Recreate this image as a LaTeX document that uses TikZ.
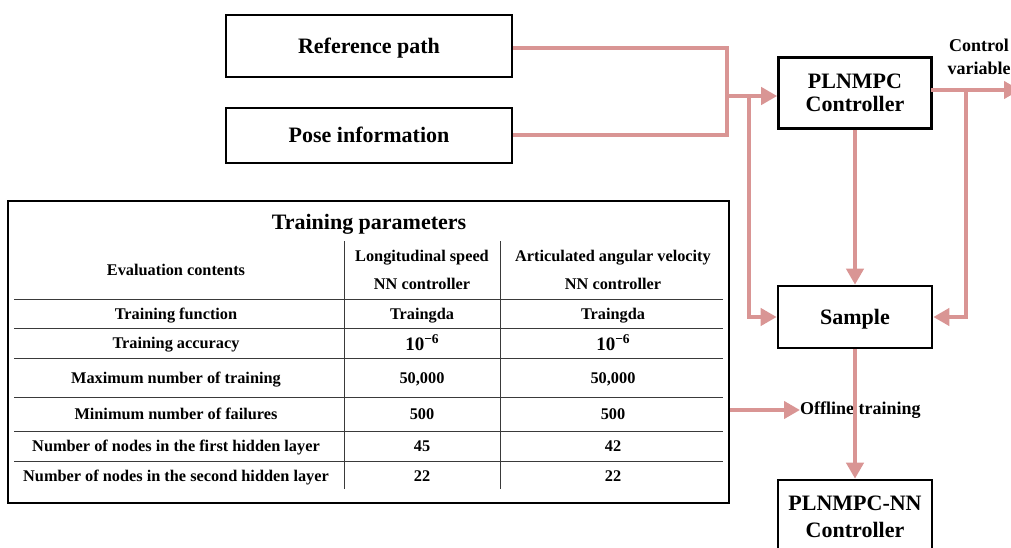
\documentclass[tikz,border=0pt]{standalone}
\usepackage{fontspec}
\setmainfont{Liberation Serif}
\usetikzlibrary{arrows.meta}
\definecolor{linkc}{HTML}{D99594}
\definecolor{rulec}{HTML}{3A3A3A}
\newcommand{\fbx}{\fontsize{22}{22.5}\selectfont\bfseries}
\newcommand{\ftab}{\fontsize{16.3}{18}\selectfont\bfseries}
\newcommand{\flab}{\fontsize{18}{23}\selectfont\bfseries}
\newcommand{\tenpow}{{\fontsize{19}{20}\selectfont\bfseries 10\raisebox{6.5pt}{\fontsize{13.5}{14}\selectfont −6}}}
\tikzset{
  blockbox/.style={draw=black, line width=2.6pt, fill=white, align=center,
    font=\fbx, inner sep=0pt},
  oneline/.style={text height=15pt, text depth=0.5pt},
  link/.style={draw=linkc, line width=4pt},
  linkarrow/.style={link, -{Triangle[length=16pt,width=17pt]}},
  cell/.style={font=\ftab, inner sep=0pt, anchor=base},
  trule/.style={draw=rulec, line width=1pt},
}
\begin{document}
\begin{tikzpicture}[x=1pt, y=-1pt]
\useasboundingbox (0,0) rectangle (1011,548);
\clip (0,0) rectangle (1011,548);

% input blocks
\node[blockbox, oneline, minimum width=286pt, minimum height=62pt] (ref) at (369,46) {Reference path};
\node[blockbox, oneline, minimum width=286pt, minimum height=55pt] (pose) at (369,135.5) {Pose information};

% controller blocks
\node[blockbox, minimum width=153pt, minimum height=71pt] (mpc) at (855,93) {PLNMPC\\Controller};
\node[blockbox, oneline, minimum width=154pt, minimum height=62pt] (sample) at (855,317) {Sample};
\node[blockbox, minimum width=154pt, minimum height=74pt] (nn) at (855,517)
  {PLNMPC-NN\\[4.5pt]Controller};

% training parameter table
\node[draw=black, line width=2.8pt, minimum width=721pt, minimum height=302pt,
  inner sep=0pt] (tab) at (368.5,352) {};
\node[font=\fbx, inner sep=0pt, anchor=base] (ttitle) at (369,229) {Training parameters};

\foreach \yy in {299,328,358,397,431,461}
  \draw[trule] (14,\yy) -- (723,\yy);
\draw[trule] (344,241) -- (344,489);
\draw[trule] (500,241) -- (500,489);

\node[cell] (h0) at (176,275.5) {Evaluation contents};
\node[cell] (h1a) at (422,261.5) {Longitudinal speed};
\node[cell] (h1b) at (422,289.5) {NN controller};
\node[cell] (h2a) at (613,261.5) {Articulated angular velocity};
\node[cell] (h2b) at (613,289.5) {NN controller};

\node[cell] (r1a) at (176,319.5) {Training function};
\node[cell] (r1b) at (422,319.5) {Traingda};
\node[cell] (r1c) at (613,319.5) {Traingda};
\node[cell] (r2a) at (176,348.5) {Training accuracy};
\node[cell] (r2b) at (422,350) {\tenpow};
\node[cell] (r2c) at (613,350) {\tenpow};
\node[cell] (r3a) at (176,383.5) {Maximum number of training};
\node[cell] (r3b) at (422,383.5) {50,000};
\node[cell] (r3c) at (613,383.5) {50,000};
\node[cell] (r4a) at (176,419.5) {Minimum number of failures};
\node[cell] (r4b) at (422,419.5) {500};
\node[cell] (r4c) at (613,419.5) {500};
\node[cell] (r5a) at (176,451.5) {Number of nodes in the first hidden layer};
\node[cell] (r5b) at (422,451.5) {45};
\node[cell] (r5c) at (613,451.5) {42};
\node[cell] (r6a) at (176,481.5) {Number of nodes in the second hidden layer};
\node[cell] (r6b) at (422,481.5) {22};
\node[cell] (r6c) at (613,481.5) {22};

% labels
\node[font=\flab, align=center, inner sep=0pt] (ctrl) at (979,57) {Control\\variable};
\node[font=\flab, inner sep=0pt, anchor=west] (off) at (800,410) {Offline training};

% junction points
\coordinate (jn) at (727,96);
\coordinate (br) at (749,96);
\coordinate (outs) at (931,90);
\coordinate (oute) at (1020,90);
\coordinate (obr) at (966,90);
\coordinate (offs) at (730,410);

% connectors
\draw[link] (ref.east |- 0,48) -| (jn) |- (pose.east);
\draw[linkarrow] (jn) -- (mpc.west |- jn);
\draw[linkarrow] (br) |- (sample.west);
\draw[linkarrow] (outs) -- (oute);
\draw[linkarrow] (obr) |- (sample.east);
\draw[linkarrow] (mpc.south) -- (sample.north);
\draw[linkarrow] (offs) -- (off.west);
\draw[linkarrow] (sample.south) -- (nn.north);
\end{tikzpicture}
\end{document}
